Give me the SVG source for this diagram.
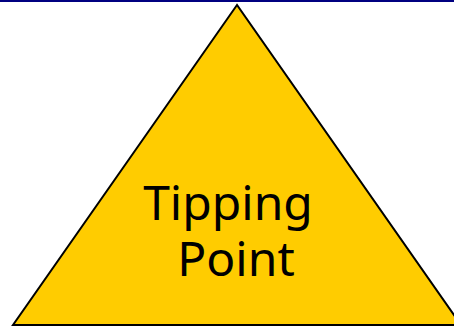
<svg xmlns="http://www.w3.org/2000/svg" width="454" height="328" viewBox="0 0 454 328">
<style>
.tri{fill:#FFCC00;stroke:#000;stroke-width:2;stroke-linejoin:miter}
.lbl{font-family:"Noto Sans","DejaVu Sans",sans-serif;font-size:48px;fill:#000;text-anchor:middle}
</style>
<rect x="0" y="0" width="454" height="328" fill="#fff"/>
<rect x="0" y="0" width="454" height="2" fill="#000080"/>
<g id="tipping-point">
<polygon class="tri" points="237,5 13,325 461,325"/>
<text class="lbl"><tspan x="228" y="220">Tipping</tspan><tspan x="236" y="276">Point</tspan></text>
</g>
</svg>
